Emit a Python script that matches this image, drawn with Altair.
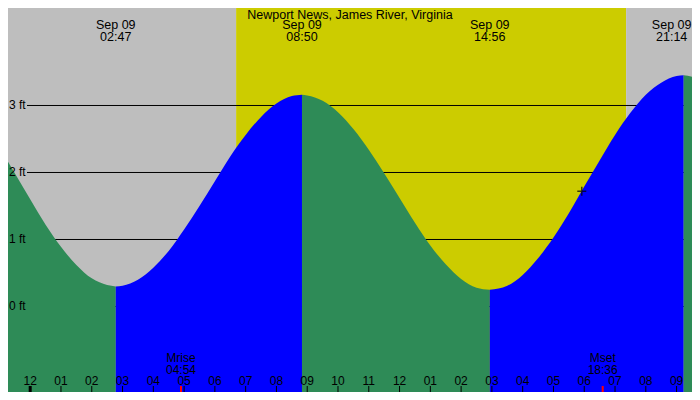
import altair as alt
import pandas as pd

# the page keeps an 8px margin on every side: the chart shows page pixels 8..692 x 8..392
M = 8
W, H = 700 - 2 * M, 400 - 2 * M
FONT = "Liberation Sans"

# tide height: hours after midnight of Sep 09, feet
tide_hours = [-1.0, -0.5, 0.0, 0.5, 1.0, 1.5, 2.0, 2.5, 2.78,
              3.0, 3.5, 4.0, 4.5, 5.0, 5.5, 6.0, 6.5, 7.0, 7.5, 8.0, 8.5, 8.83,
              9.0, 9.5, 10.0, 10.5, 11.0, 11.5, 12.0, 12.5, 13.0, 13.5, 14.0, 14.5, 14.93,
              15.5, 16.0, 16.5, 17.0, 17.5, 18.0, 18.5, 19.0, 19.5, 20.0, 20.5, 21.0, 21.23,
              21.5, 22.0]
tide_feet = [2.37, 1.99, 1.60, 1.22, 0.89, 0.62, 0.42, 0.32, 0.30,
             0.31, 0.40, 0.58, 0.83, 1.15, 1.50, 1.87, 2.24, 2.56, 2.83, 3.03, 3.14, 3.16,
             3.15, 3.07, 2.90, 2.65, 2.34, 1.99, 1.62, 1.25, 0.91, 0.63, 0.41, 0.28, 0.25,
             0.31, 0.47, 0.72, 1.03, 1.39, 1.79, 2.18, 2.56, 2.89, 3.16, 3.34, 3.44, 3.45,
             3.43, 3.33]

# high / low tides
extreme_hours = [2.78, 8.83, 14.93, 21.23]
extreme_dates = ["Sep 09", "Sep 09", "Sep 09", "Sep 09"]
extreme_times = ["02:47", "08:50", "14:56", "21:14"]

# sun and moon
sunrise, sunset = 6.69, 19.36
moon_hours = [4.90, 18.60]
moon_names = ["Mrise", "Mset"]
moon_times = ["04:54", "18:36"]

# current reading marker
now_hour, now_feet = 17.92, 1.72

levels = [0, 1, 2, 3]
level_labels = ["0 ft", "1 ft", "2 ft", "3 ft"]

title_text = "Newport News, James River, Virginia"

GRAY = "#bebebe"
YELLOW = "#cccc00"
GREEN = "#2e8b57"
BLUE = "#0000ff"

x_scale = alt.Scale(domain=[-0.721, 21.501], nice=False, zero=False)
y_scale = alt.Scale(domain=[-1.2761, 4.455], nice=False, zero=False)


def py(y):
    # page pixel row -> chart pixel row
    return y - M


########## data frames ##########

sky = pd.DataFrame({
    "start": [-2.0, sunrise, sunset],
    "end": [sunrise, sunset, 23.0],
    "color": [GRAY, YELLOW, GRAY],
})

bounds = [-99] + extreme_hours + [99]
rows = []
for i in range(len(bounds) - 1):
    falling = i % 2 == 0
    for h, f in zip(tide_hours, tide_feet):
        if bounds[i] <= h <= bounds[i + 1]:
            rows.append({"hour": h, "feet": f, "segment": i,
                         "color": GREEN if falling else BLUE})
tide = pd.DataFrame(rows)

lv = pd.DataFrame({"ft": levels, "label": level_labels})

ext = pd.DataFrame({"hour": extreme_hours, "date": extreme_dates, "time": extreme_times})
edge = ext["hour"] > 21   # last label is nudged inside the right edge

moon = pd.DataFrame({"hour": moon_hours, "name": moon_names, "time": moon_times})

hours = list(range(0, 22))
ticks = pd.DataFrame({
    "hour": hours,
    "label": ["%02d" % ((h % 12) or 12) for h in hours],
    "w": [3 if h == 0 else 1 for h in hours],
})

now = pd.DataFrame({"hour": [now_hour], "feet": [now_feet]})

########## layers ##########

X = alt.X("hour:Q", scale=x_scale, axis=None)


def txt(df, field, y, size=12, dx=0):
    return alt.Chart(df).mark_text(font=FONT, fontSize=size, color="black",
                                   baseline="alphabetic", dx=dx).encode(
        x=X, y=alt.value(py(y)), text=field)


bg = alt.Chart(sky).mark_rect(clip=True).encode(
    x=alt.X("start:Q", scale=x_scale, axis=None), x2="end",
    y=alt.value(0), y2=alt.value(H),
    color=alt.Color("color:N", scale=None),
)

rules = alt.Chart(lv).mark_rule(color="black", strokeWidth=1).encode(
    y=alt.Y("ft:Q", scale=y_scale, axis=None),
    x=alt.value(27 - M), x2=alt.value(W),
)

water = alt.Chart(tide).mark_area(interpolate="monotone", clip=True).encode(
    x=X,
    y=alt.Y("feet:Q", scale=y_scale, axis=None, stack=None),
    y2=alt.value(H),
    color=alt.Color("color:N", scale=None),
    detail="segment:N",
)

lv_text = alt.Chart(lv).mark_text(align="left", baseline="middle", font=FONT,
                                  fontSize=12, color="black").encode(
    x=alt.value(1), y=alt.Y("ft:Q", scale=y_scale, axis=None), text="label:N",
)

title = alt.Chart(pd.DataFrame({"t": [title_text]})).mark_text(
    font=FONT, fontSize=12.5, color="black", baseline="alphabetic").encode(
    x=alt.value(350 - M), y=alt.value(py(19)), text="t:N",
)

top1 = txt(ext[~edge], "date:N", 28.5, 12.5)
top2 = txt(ext[~edge], "time:N", 40.5, 12.5)
top1e = txt(ext[edge], "date:N", 28.5, 12.5, dx=-12)
top2e = txt(ext[edge], "time:N", 40.5, 12.5, dx=-12)

moon1 = txt(moon, "name:N", 361.5)
moon2 = txt(moon, "time:N", 373.5)
hour_text = txt(ticks, "label:N", 385)

hour_ticks = alt.Chart(ticks).mark_rule(color="black").encode(
    x=X, y=alt.value(py(386)), y2=alt.value(H),
    strokeWidth=alt.StrokeWidth("w:Q", scale=None),
)

moon_ticks = alt.Chart(moon).mark_rule(color="red", strokeWidth=2).encode(
    x=X, y=alt.value(py(386)), y2=alt.value(H))

marker = alt.Chart(now).mark_point(shape="M-1,0H1M0,-1V1", size=81, color="black",
                                   strokeWidth=1.5, filled=False).encode(
    x=X, y=alt.Y("feet:Q", scale=y_scale, axis=None))

chart = alt.layer(
    bg, rules, water, lv_text, title, top1, top2, top1e, top2e, moon1, moon2,
    hour_ticks, moon_ticks, hour_text, marker,
).properties(
    width=W, height=H, padding=0,
    autosize=alt.AutoSizeParams(type="none"),
).configure_view(stroke=None)

chart.save("out.html", embed_options={"renderer": "svg", "actions": False})
